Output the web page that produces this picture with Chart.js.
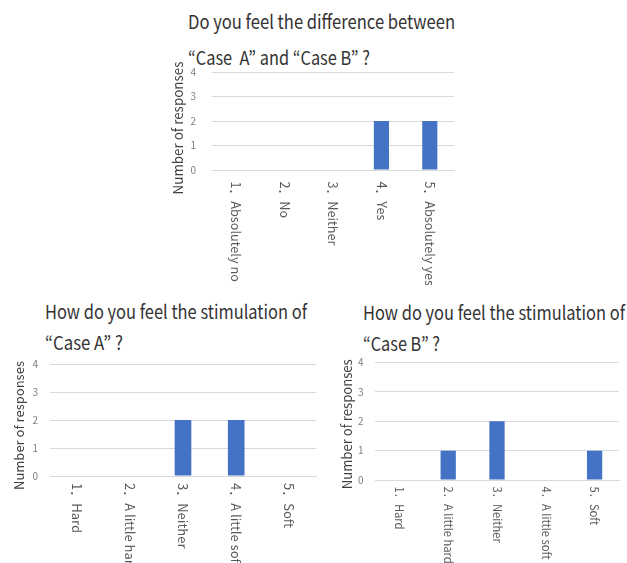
<!DOCTYPE html>
<html>
<head>
<meta charset="utf-8">
<script src="https://cdn.jsdelivr.net/npm/chart.js@4"></script>
<style>
  body { margin: 0; background: #fff; }
  #page { position: relative; width: 627px; height: 563px; overflow: hidden; }
  canvas { position: absolute; }
  .ttl {
    position: absolute; white-space: nowrap; line-height: 24px; height: 24px;
    font-family: "Noto Sans CJK JP", "Noto Sans", sans-serif; font-size: 19px; color: #333;
    transform-origin: 0 50%;
  }
</style>
</head>
<body>
<div id="page">
  <div class="ttl" style="left:188px; top:9px" data-w="267">Do you feel the difference between</div>
  <div class="ttl" style="left:188px; top:45px" data-w="182">“Case&nbsp;&nbsp;A” and “Case B” ?</div>
  <canvas id="chart-diff" style="left:160px; top:50px" width="300" height="235"></canvas>

  <div class="ttl" style="left:45px; top:299px" data-w="262">How do you feel the stimulation of</div>
  <div class="ttl" style="left:45px; top:330px" data-w="78">“Case A” ?</div>
  <canvas id="chart-a" style="left:0px; top:346px" width="322" height="217"></canvas>

  <div class="ttl" style="left:363px; top:300px" data-w="262">How do you feel the stimulation of</div>
  <div class="ttl" style="left:363px; top:331px" data-w="77">“Case B” ?</div>
  <canvas id="chart-b" style="left:330px; top:345px" width="297" height="218"></canvas>
</div>

<script>
// data
const diffLabels = ['1．Absolutely no', '2．No', '3．Neither', '4．Yes', '5．Absolutely yes'];
const diffValues = [0, 0, 0, 2, 2];

const stimLabels = ['1．Hard', '2．A little hard', '3．Neither', '4．A little soft', '5．Soft'];
const caseAValues = [0, 0, 2, 2, 0];
const caseBValues = [0, 1, 2, 0, 1];

const yMin = 0;
const yMax = 4;
const yStep = 1;
const yAxisTitle = 'Number of responses';

const fontFamily = '"Noto Sans CJK JP", "Noto Sans", sans-serif';

// squeeze the titles to the width they have in the picture
document.querySelectorAll('.ttl').forEach(el => {
    const target = parseFloat(el.dataset.w);
    const w = el.getBoundingClientRect().width;
    el.style.transform = 'scaleX(' + (target / w) + ')';
});

// category labels written top to bottom (like Excel's rotated text),
// plus the vertical axis title, which Excel puts a bit lower than centre
const excelText = {
    id: 'excelText',
    afterDraw(chart, args, opts) {
        const {ctx, chartArea, scales: {x}} = chart;
        ctx.save();
        ctx.font = opts.labelSize + 'px ' + fontFamily;
        ctx.fillStyle = '#595959';
        ctx.textAlign = 'left';
        ctx.textBaseline = 'middle';
        chart.data.labels.forEach((label, i) => {
            ctx.save();
            ctx.translate(x.getPixelForValue(i), chartArea.bottom + opts.labelOffset);
            ctx.rotate(Math.PI / 2);
            ctx.fillText(label, 0, 0);
            ctx.restore();
        });

        ctx.font = opts.titleSize + 'px ' + fontFamily;
        ctx.fillStyle = '#404040';
        ctx.textAlign = 'center';
        ctx.translate(opts.titleX, (chartArea.top + chartArea.bottom) / 2 + opts.titleShift);
        ctx.rotate(-Math.PI / 2);
        ctx.fillText(yAxisTitle, 0, 0);
        ctx.restore();
    }
};

function makeChart(id, labels, values, cfg) {
    const ctx = document.getElementById(id).getContext('2d');
    return new Chart(ctx, {
        type: 'bar',
        data: {
            labels: labels,
            datasets: [{
                data: values,
                backgroundColor: '#4472C4',
                barPercentage: 0.313,
                categoryPercentage: 1
            }]
        },
        options: {
            responsive: false,
            animation: false,
            layout: { padding: cfg.padding },
            plugins: {
                legend: { display: false },
                tooltip: { enabled: false },
                excelText: cfg.text
            },
            scales: {
                x: {
                    grid: { display: false, drawTicks: false },
                    border: { color: '#d9d9d9' },
                    ticks: { display: false },
                    afterFit: s => { s.height = 0; }
                },
                y: {
                    min: yMin,
                    max: yMax,
                    ticks: {
                        stepSize: yStep,
                        padding: cfg.tickPad,
                        color: '#7f7f7f',
                        font: { family: fontFamily, size: 10 }
                    },
                    grid: { color: '#d9d9d9', drawTicks: false },
                    border: { display: false },
                    afterFit: s => { s.width = cfg.axisWidth; }
                }
            }
        },
        plugins: [excelText]
    });
}

makeChart('chart-diff', diffLabels, diffValues, {
    padding: { top: 22, right: 6, bottom: 115, left: 0 },
    axisWidth: 52, tickPad: 16,
    text: { labelSize: 12.7, labelOffset: 11.5, titleSize: 13.4, titleX: 18, titleShift: 7 }
});
makeChart('chart-a', stimLabels, caseAValues, {
    padding: { top: 12, right: 6, bottom: 87, left: 0 },
    axisWidth: 50, tickPad: 12,
    text: { labelSize: 13, labelOffset: 7, titleSize: 13, titleX: 19, titleShift: 5.5 }
});
makeChart('chart-b', stimLabels, caseBValues, {
    padding: { top: 12, right: 8, bottom: 83, left: 0 },
    axisWidth: 45, tickPad: 11.5,
    text: { labelSize: 11.2, labelOffset: 6.5, titleSize: 13.1, titleX: 17.5, titleShift: 3 }
});
</script>
</body>
</html>
